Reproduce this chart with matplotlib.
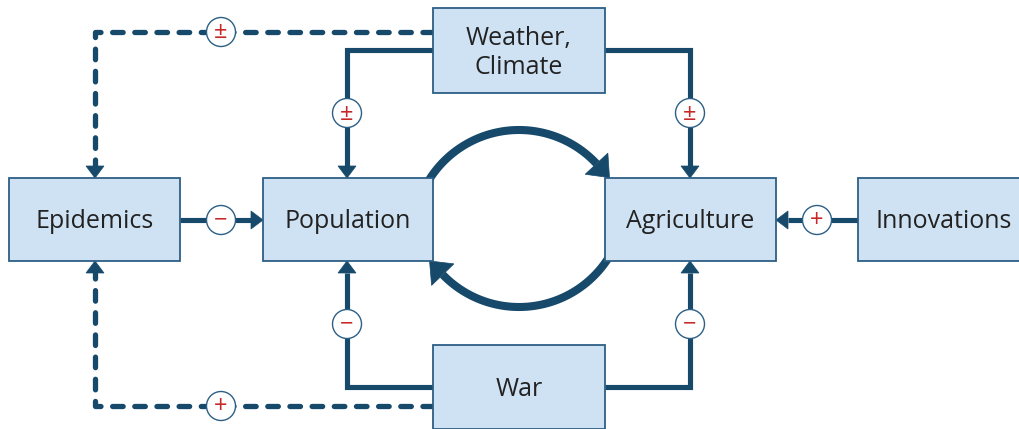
import numpy as np
import matplotlib
matplotlib.use('Agg')
import matplotlib.pyplot as plt
from matplotlib.patches import Rectangle, Circle, Polygon

# =========================
# Diagram content
# =========================

box_names = ['epi', 'pop', 'wea', 'agr', 'inn', 'war']
box_labels = ['Epidemics', 'Population', 'Weather,\nClimate', 'Agriculture', 'Innovations', 'War']

# sign on each link, in the order of the links list below
link_names = ['wea-epi', 'wea-pop', 'wea-agr', 'epi-pop', 'inn-agr', 'war-pop', 'war-agr', 'war-epi']
link_signs = ['±', '±', '±', '\u2212', '+', '\u2212', '\u2212', '+']

# =========================
# Layout (pixel coordinates, y down)
# =========================

boxes = {
    'epi': (9, 178, 171, 83),
    'pop': (263, 178, 170, 83),
    'wea': (433, 8, 172, 85),
    'agr': (605, 178, 171, 83),
    'inn': (858, 178, 171, 83),
    'war': (433, 345, 172, 84),
}

# polyline, dashed?, sign circle position
links = {
    'wea-epi': ([(433, 32), (95, 32), (95, 178)], True, (221, 32)),
    'wea-pop': ([(433, 50), (347, 50), (347, 178)], False, (347, 113)),
    'wea-agr': ([(605, 50), (690, 50), (690, 178)], False, (690, 113)),
    'epi-pop': ([(180, 220), (263, 220)], False, (221, 220)),
    'inn-agr': ([(858, 220), (776, 220)], False, (817, 220)),
    'war-pop': ([(433, 387), (347, 387), (347, 261)], False, (347, 324)),
    'war-agr': ([(605, 387), (690, 387), (690, 261)], False, (690, 324)),
    'war-epi': ([(433, 406), (95, 406), (95, 261)], True, (221, 406)),
}

line_col = '#17496b'
box_fill = '#cfe2f3'
box_edge = '#2d5f85'
sign_col = '#c62828'
text_col = '#222222'

plt.rcParams['font.family'] = ['Open Sans', 'DejaVu Sans']

fig = plt.figure(figsize=(10.2, 4.29), dpi=100)
ax = fig.add_axes([0, 0, 1, 1])
ax.set_xlim(0, 1020)
ax.set_ylim(429, 0)
ax.axis('off')


def head(base, direction, length, width):
    d = np.array(direction, dtype=float)
    d = d / np.linalg.norm(d)
    n = np.array([-d[1], d[0]])
    base = np.array(base, dtype=float)
    tip = base + d * length
    pts = [tip, base + n * width / 2, base - n * width / 2]
    ax.add_patch(Polygon(pts, closed=True, facecolor=line_col, edgecolor=line_col,
                         lw=0.5, zorder=2))


# =========================
# Straight links
# =========================

for name, sign in zip(link_names, link_signs):
    pts, dashed, cpos = links[name]
    pts = np.array(pts, dtype=float)
    d = pts[-1] - pts[-2]
    d = d / np.linalg.norm(d)
    base = pts[-1] - d * 12
    head(base, d, 12, 18)
    xs = list(pts[:-1, 0]) + [base[0]]
    ys = list(pts[:-1, 1]) + [base[1]]
    if dashed:
        ax.plot(xs, ys, color=line_col, lw=3.8, dashes=(2.0, 2.2),
                dash_capstyle='round', solid_joinstyle='round', zorder=1)
    else:
        ax.plot(xs, ys, color=line_col, lw=3.7, solid_joinstyle='miter',
                solid_capstyle='butt', zorder=1)
    ax.add_patch(Circle(cpos, 14.5, facecolor='white', edgecolor=box_edge, lw=1.0, zorder=3))
    ax.text(cpos[0], cpos[1] + 0.5, sign, color=sign_col, fontsize=17,
            ha='center', va='center', zorder=4)

# =========================
# Feedback loop between Population and Agriculture
# =========================


def arc(cx, cy, r, t0, t1):
    ts = np.radians(np.linspace(t0, t1, 100))
    xs = cx + r * np.cos(ts)
    ys = cy - r * np.sin(ts)
    ax.plot(xs, ys, color=line_col, lw=5.8, solid_capstyle='butt', zorder=1)
    # tangent at the end, moving clockwise on screen
    t = ts[-1]
    sgn = 1 if t1 < t0 else -1
    direction = (sgn * np.sin(t), sgn * np.cos(t))
    head((xs[-1], ys[-1]), direction, 19, 31)


arc(519, 236, 106, 150, 43)
arc(519, 201, 106, -32, -136)

# =========================
# Boxes
# =========================

line_gap = 29
for name, label in zip(box_names, box_labels):
    x, y, w, h = boxes[name]
    ax.add_patch(Rectangle((x, y), w, h, facecolor=box_fill, edgecolor=box_edge,
                           lw=1.3, zorder=2.5))
    lines = label.split('\n')
    for i, line in enumerate(lines):
        yb = y + h / 2 + 9 + (i - (len(lines) - 1) / 2) * line_gap
        ax.text(x + w / 2, yb, line, color=text_col, fontsize=18,
                ha='center', va='baseline', zorder=4)

fig.savefig('out.png', dpi=100)
